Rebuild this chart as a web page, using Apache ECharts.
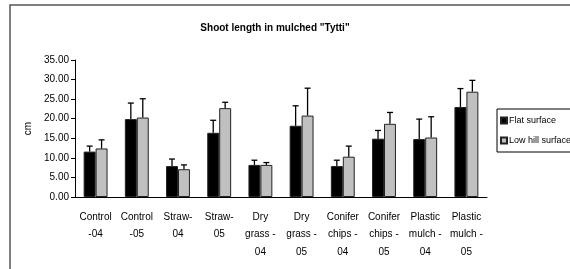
<!DOCTYPE html>
<html>
<head>
<meta charset="utf-8">
<script src="https://cdn.jsdelivr.net/npm/echarts@6/dist/echarts.min.js"></script>
<style>
html,body{margin:0;padding:0;background:#fff;}
#chart{width:570px;height:269px;}
</style>
</head>
<body>
<div id="chart"></div>
<script>
var categories = ["Control\n-04", "Control\n-05", "Straw-\n04", "Straw-\n05", "Dry\ngrass -\n04", "Dry\ngrass -\n05", "Conifer\nchips -\n04", "Conifer\nchips -\n05", "Plastic\nmulch -\n04", "Plastic\nmulch -\n05"];
var flatValues = [11.6, 19.9, 7.9, 16.4, 8.2, 18.2, 7.9, 14.9, 14.8, 23.0];
var flatErrors = [1.4, 4.1, 1.8, 3.2, 1.2, 5.1, 1.5, 2.1, 5.1, 4.7];
var lowValues = [12.4, 20.3, 7.1, 22.7, 8.2, 20.8, 10.3, 18.7, 15.2, 26.9];
var lowErrors = [2.2, 4.8, 1.1, 1.5, 0.6, 7.0, 2.7, 2.9, 5.3, 2.9];
var seriesNames = ["Flat surface", "Low hill surface"];
var yTicks = [0, 5, 10, 15, 20, 25, 30, 35];

var FONT = "'Liberation Sans', Arial, sans-serif";
var CAT_GAP = 0.42;

function errorSeries(values, errors, side) {
  var data = values.map(function (v, i) { return [i, v, v + errors[i]]; });
  return {
    type: 'custom',
    z: 10,
    silent: true,
    data: data,
    renderItem: function (params, api) {
      var i = api.value(0);
      var base = api.coord([i, api.value(1)]);
      var top = api.coord([i, api.value(2)]);
      var band = api.size([1, 0])[0];
      var bw = band * (1 - CAT_GAP) / 2;
      var x = base[0] + side * bw / 2;
      var cap = 3;
      var st = { stroke: '#000', lineWidth: 1.3 };
      return {
        type: 'group',
        children: [
          { type: 'line', shape: { x1: x, y1: base[1], x2: x, y2: top[1] }, style: st },
          { type: 'line', shape: { x1: x - cap, y1: top[1], x2: x + cap, y2: top[1] }, style: st }
        ]
      };
    }
  };
}

var chart = echarts.init(document.getElementById('chart'));
chart.setOption({
  animation: false,
  backgroundColor: '#fff',
  graphic: [{
    type: 'rect', shape: { x: 10, y: 5, width: 700, height: 400 },
    style: { fill: 'none', stroke: '#555', lineWidth: 1.5 }, silent: true
  }],
  title: {
    text: 'Shoot length in mulched "Tytti"',
    left: 270, top: 18, textAlign: 'center',
    textStyle: { fontFamily: FONT, fontSize: 10, fontWeight: 'bold', color: '#000' }
  },
  legend: {
    data: seriesNames,
    orient: 'vertical',
    left: 497, top: 109,
    borderColor: '#000', borderWidth: 1, borderRadius: 0,
    padding: [7, 20, 7, 3],
    itemWidth: 6, itemHeight: 6, itemGap: 11,
    icon: 'rect',
    textStyle: { fontFamily: FONT, fontSize: 9, color: '#000', padding: [0, 0, 0, -3] }
  },
  grid: { left: 75, top: 60, width: 412, height: 137, containLabel: false },
  xAxis: {
    type: 'category',
    data: categories,
    axisLine: { lineStyle: { color: '#000', width: 1 } },
    axisTick: { length: 3, lineStyle: { color: '#000' } },
    axisLabel: { interval: 0, fontFamily: FONT, fontSize: 10, color: '#000', lineHeight: 17.5, margin: 11 }
  },
  yAxis: {
    type: 'value', min: 0, max: 35, interval: 5,
    name: 'cm', nameLocation: 'middle', nameGap: 40,
    nameTextStyle: { fontFamily: FONT, fontSize: 10, color: '#000' },
    axisLine: { show: true, lineStyle: { color: '#000', width: 1 } },
    axisTick: { show: true, length: 4, lineStyle: { color: '#000' } },
    splitLine: { show: false },
    axisLabel: { fontFamily: FONT, fontSize: 10, color: '#000', margin: 6,
      formatter: function (v) { return yTicks.indexOf(v) >= 0 ? v.toFixed(2) : ''; } }
  },
  series: [
    { name: seriesNames[0], type: 'bar', data: flatValues, barGap: '0%', barCategoryGap: (CAT_GAP * 100) + '%',
      itemStyle: { color: '#000', borderColor: '#222', borderWidth: 1 } },
    { name: seriesNames[1], type: 'bar', data: lowValues, barGap: '0%', barCategoryGap: (CAT_GAP * 100) + '%',
      itemStyle: { color: '#c0c0c0', borderColor: '#222', borderWidth: 1 } },
    errorSeries(flatValues, flatErrors, -1),
    errorSeries(lowValues, lowErrors, 1)
  ]
});
</script>
</body>
</html>
